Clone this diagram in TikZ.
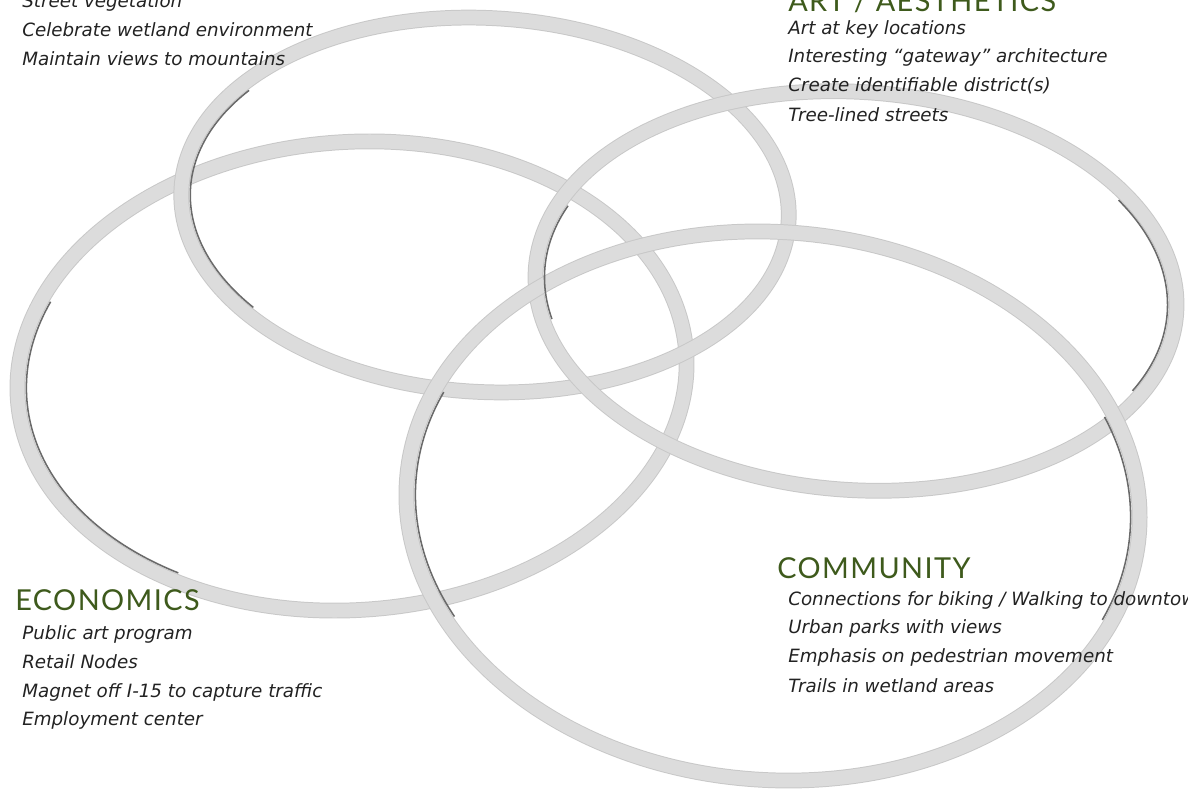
\documentclass[tikz,border=0pt]{standalone}
\usepackage{fontspec}
\setmainfont{DejaVu Sans}
\newfontfamily\headfont[LetterSpace=5]{Lato}
\definecolor{ringface}{HTML}{DCDCDC}
\definecolor{ringedge}{HTML}{C8C8C8}
\definecolor{ringshade}{HTML}{6A6A6A}
\definecolor{headgreen}{HTML}{3E5A1C}
\definecolor{itemgray}{HTML}{222222}

\begin{document}
\begin{tikzpicture}[x=0.025cm, y=-0.025cm]
\tikzset{ring/.style={draw=ringedge, line width=0.7pt, double=ringface, double distance=9.8pt},
  ringshadow/.style={draw=ringshade, line width=1.1pt},
  heading/.style={anchor=base west, inner sep=0pt, text=headgreen, font=\headfont\fontsize{20.5}{24}\selectfont},
  item/.style={anchor=base west, inner sep=0pt, text=itemgray, font=\itshape\fontsize{13}{15}\selectfont}}
\useasboundingbox (0,0) rectangle (1188,807);
\clip (0,0) rectangle (1188,807);
% the four rings
\draw[ring, rotate around={4:(352,376)}] (352,376) ellipse [x radius=335, y radius=234];
\draw[ring, rotate around={-3:(485,205)}] (485,205) ellipse [x radius=304, y radius=187];
\draw[ring, rotate around={-4:(856,291)}] (856,291) ellipse [x radius=321, y radius=199];
\draw[ring, rotate around={-4:(773,506)}] (773,506) ellipse [x radius=367, y radius=274];
% dark inner edges
\draw[ringshadow, rotate around={4:(352,376)}] (352,376) ++(125:326 and 225) arc [start angle=125, end angle=205, x radius=326, y radius=225];
\draw[ringshadow, rotate around={-3:(485,205)}] (485,205) ++(140:295 and 178) arc [start angle=140, end angle=215, x radius=295, y radius=178];
\draw[ringshadow, rotate around={-4:(856,291)}] (856,291) ++(-35:312 and 190) arc [start angle=-35, end angle=25, x radius=312, y radius=190];
\draw[ringshadow, rotate around={-4:(856,291)}] (856,291) ++(165:312 and 190) arc [start angle=165, end angle=200, x radius=312, y radius=190];
\draw[ringshadow, rotate around={-4:(773,506)}] (773,506) ++(-25:358 and 265) arc [start angle=-25, end angle=20, x radius=358, y radius=265];
\draw[ringshadow, rotate around={-4:(773,506)}] (773,506) ++(150:358 and 265) arc [start angle=150, end angle=200, x radius=358, y radius=265];
% top left block
\node[item] (veg) at (22,8) {Street vegetation};
\node[item] (wet) at (22,37) {Celebrate wetland environment};
\node[item] (mtn) at (22,66) {Maintain views to mountains};
% art
\node[heading] (art) at (788,12) {ART / AESTHETICS};
\node[item] (art1) at (788,35) {Art at key locations};
\node[item] (art2) at (788,63) {Interesting “gateway” architecture};
\node[item] (art3) at (788,92) {Create identifiable district(s)};
\node[item] (art4) at (788,122) {Tree-lined streets};
% community
\node[heading] (com) at (777,578) {COMMUNITY};
\node[item] (com1) at (788,605) {Connections for biking / Walking to downtown};
\node[item] (com2) at (788,633) {Urban parks with views};
\node[item] (com3) at (788,662) {Emphasis on pedestrian movement};
\node[item] (com4) at (788,692) {Trails in wetland areas};
% economics
\node[heading] (eco) at (15,610) {ECONOMICS};
\node[item] (eco1) at (22,639) {Public art program};
\node[item] (eco2) at (22,668) {Retail Nodes};
\node[item] (eco3) at (22,697) {Magnet off I-15 to capture traffic};
\node[item] (eco4) at (22,725) {Employment center};
\end{tikzpicture}
\end{document}
